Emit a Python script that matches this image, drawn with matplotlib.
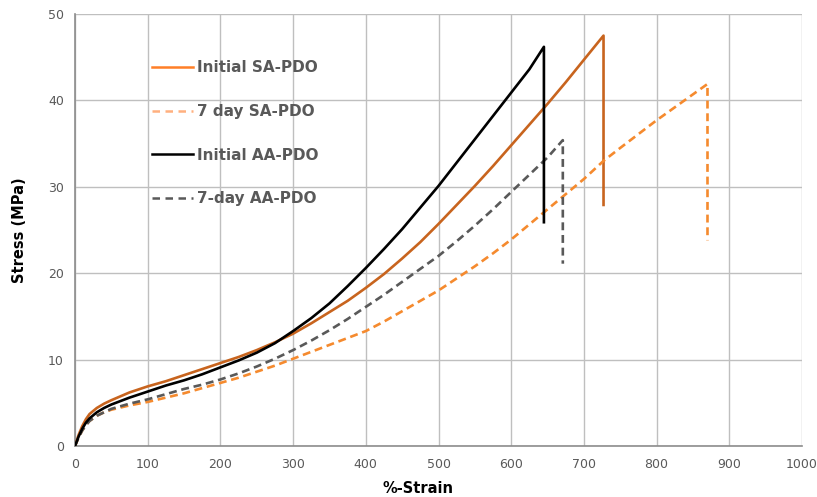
import matplotlib
matplotlib.use("Agg")
import matplotlib.pyplot as plt
from matplotlib.lines import Line2D

# Tensile test curves: %-strain vs stress (MPa)
sa_initial_strain = [0, 5, 10, 15, 20, 30, 40, 50, 75, 100, 125, 150, 175, 200, 225, 250,
                     275, 300, 325, 350, 375, 400, 425, 450, 475, 500, 525, 550, 575, 600,
                     625, 650, 675, 700, 727, 727]
sa_initial_stress = [0, 1.3, 2.3, 3.1, 3.7, 4.4, 4.9, 5.3, 6.2, 6.9, 7.5, 8.2, 8.9, 9.6, 10.3, 11.1,
                     12.0, 13.0, 14.2, 15.5, 16.8, 18.3, 19.9, 21.7, 23.6, 25.7, 27.9, 30.1, 32.4, 34.8,
                     37.2, 39.6, 42.1, 44.7, 47.5, 27.9]

sa_7day_strain = [0, 5, 10, 15, 20, 30, 40, 50, 75, 100, 125, 150, 175, 200, 225, 250,
                  275, 300, 325, 350, 375, 400, 425, 450, 475, 500, 525, 550, 575, 600,
                  650, 700, 727, 750, 800, 850, 870, 870]
sa_7day_stress = [0, 1.0, 1.8, 2.4, 2.9, 3.5, 3.9, 4.2, 4.7, 5.1, 5.6, 6.1, 6.7, 7.3, 7.9, 8.6,
                  9.3, 10.1, 10.9, 11.7, 12.5, 13.3, 14.4, 15.6, 16.8, 18.0, 19.4, 20.8, 22.3, 23.9,
                  27.4, 30.9, 33.0, 34.5, 37.7, 40.7, 41.9, 23.8]

aa_initial_strain = [0, 5, 10, 15, 20, 30, 40, 50, 75, 100, 125, 150, 175, 200, 225, 250,
                     275, 300, 325, 350, 375, 400, 425, 450, 475, 500, 525, 550, 575, 600,
                     625, 645, 645]
aa_initial_stress = [0, 1.1, 2.0, 2.7, 3.2, 3.9, 4.4, 4.8, 5.6, 6.3, 7.0, 7.6, 8.3, 9.1, 9.9, 10.8,
                     11.9, 13.3, 14.8, 16.5, 18.5, 20.6, 22.8, 25.1, 27.6, 30.1, 32.8, 35.5, 38.2, 40.9,
                     43.6, 46.2, 25.9]

aa_7day_strain = [0, 5, 10, 15, 20, 30, 40, 50, 75, 100, 125, 150, 175, 200, 225, 250,
                  275, 300, 325, 350, 375, 400, 425, 450, 475, 500, 525, 550, 575, 600,
                  625, 650, 671, 671]
aa_7day_stress = [0, 1.0, 1.8, 2.4, 2.9, 3.5, 3.9, 4.3, 4.9, 5.4, 6.0, 6.6, 7.1, 7.7, 8.4, 9.2,
                  10.1, 11.1, 12.2, 13.4, 14.7, 16.1, 17.5, 19.0, 20.5, 22.0, 23.7, 25.5, 27.4, 29.4,
                  31.4, 33.4, 35.4, 21.1]

series_labels = ["Initial SA-PDO", "7 day SA-PDO", "Initial AA-PDO", "7-day AA-PDO"]
x_ticks = [0, 100, 200, 300, 400, 500, 600, 700, 800, 900, 1000]
y_ticks = [0, 10, 20, 30, 40, 50]

TEXT_GRAY = "#595959"

fig = plt.figure(figsize=(8.17, 4.97), dpi=100)
ax = fig.add_axes([75 / 817, 1 - 446 / 497, (802 - 75) / 817, (446 - 14) / 497])

lw = 1.9
dash = (3.0, 1.8)
ax.plot(sa_initial_strain, sa_initial_stress, color="#C8641E", lw=lw, zorder=3)
ax.plot(sa_7day_strain, sa_7day_stress, color="#F58A2E", lw=lw, dashes=dash, zorder=3)
ax.plot(aa_initial_strain, aa_initial_stress, color="black", lw=lw, zorder=4)
ax.plot(aa_7day_strain, aa_7day_stress, color="#595959", lw=lw, dashes=dash, zorder=3)

ax.set_xlim(0, 1000)
ax.set_ylim(0, 50)
ax.set_xticks(x_ticks)
ax.set_yticks(y_ticks)
ax.grid(True, color="#BFBFBF", lw=1.0, zorder=0)
ax.set_axisbelow(True)
for side in ("top", "right"):
    ax.spines[side].set_visible(False)
for side in ("left", "bottom"):
    ax.spines[side].set_color("#8C8C8C")
    ax.spines[side].set_linewidth(1.2)
ax.tick_params(axis="both", length=0, labelsize=9, labelcolor=TEXT_GRAY)
ax.tick_params(axis="x", pad=9)
ax.tick_params(axis="y", pad=8)

ax.set_xlabel("%-Strain", fontsize=10.5, fontweight="bold", va="center")
ax.xaxis.set_label_coords(0.472, -0.0995)
ax.set_ylabel("Stress (MPa)", fontsize=10.5, fontweight="bold", va="center")
ax.yaxis.set_label_coords(-0.0757, 0.5)

handles = [
    Line2D([], [], color="#FF7F27", lw=1.8),
    Line2D([], [], color="#FFB07F", lw=1.8, dashes=(3.0, 2.2)),
    Line2D([], [], color="black", lw=1.8),
    Line2D([], [], color="#595959", lw=1.8, dashes=(3.0, 2.2)),
]
leg = ax.legend(handles, series_labels, loc="upper left", bbox_to_anchor=(0.106, 0.893),
                frameon=False, handlelength=2.7, handletextpad=0.25, labelspacing=1.88,
                borderpad=0, borderaxespad=0,
                prop={"size": 11, "weight": "bold"})
for t in leg.get_texts():
    t.set_color(TEXT_GRAY)

fig.savefig("out.png", dpi=100)
